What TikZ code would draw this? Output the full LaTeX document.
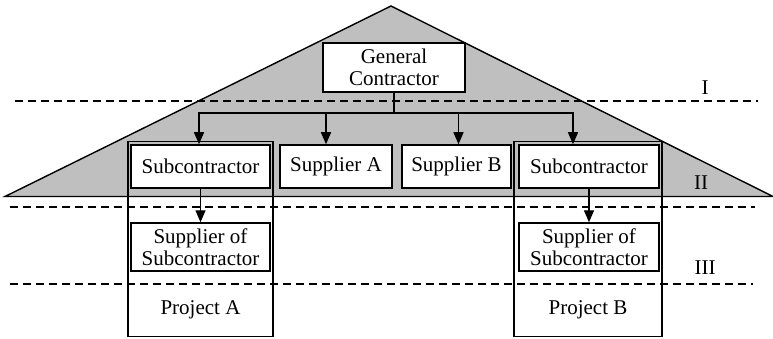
\documentclass[tikz,border=0pt]{standalone}
\usepackage{fontspec}
\setmainfont{Liberation Serif}
\usetikzlibrary{arrows.meta}

\begin{document}
\begin{tikzpicture}[x=1pt, y=-1pt, >={Triangle[length=12pt,width=10pt]},
    box/.style={draw, fill=white, line width=1.5pt, inner sep=0pt, align=center, font=\fontsize{21}{22}\selectfont},
    frame/.style={draw, line width=1.5pt, inner sep=0pt},
    level/.style={line width=1.8pt, dash pattern=on 8pt off 5pt}]
    \useasboundingbox (0,0) rectangle (773,339);

    % 三角形
    \fill[black!25] (391,6) -- (773,196.5) -- (5,196.5) -- cycle;
    \draw[line width=1.4pt] (5,196.5) -- (391,6) -- (773,196.5) -- cycle;

    % 层次虚线
    \draw[level] (15,101) -- (758,101);
    \draw[level] (10,207) -- (755,207);
    \draw[level] (10,284) -- (753,284);
    \node[font=\fontsize{21}{22}\selectfont] (lvI) at (705,88) {I};
    \node[font=\fontsize{21}{22}\selectfont] (lvII) at (701,183) {II};
    \node[font=\fontsize{21}{22}\selectfont] (lvIII) at (705,268) {III};

    % 项目框
    \node[frame, minimum width=145pt, minimum height=195pt] (frameA) at (200.3,239.2) {};
    \node[frame, minimum width=148pt, minimum height=195pt] (frameB) at (588,239.2) {};
    \node[font=\fontsize{21}{22}\selectfont] (projA) at (200.5,310) {Project A};
    \node[font=\fontsize{21}{22}\selectfont] (projB) at (588,310) {Project B};

    % 各方
    \node[box, minimum width=142pt, minimum height=49pt] (gc) at (394,67.5) {General\\Contractor};
    \node[box, minimum width=139pt, minimum height=43pt] (subA) at (200.5,166.5) {Subcontractor};
    \node[box, minimum width=112pt, minimum height=43pt] (supA) at (336,166.5) {Supplier A};
    \node[box, minimum width=109pt, minimum height=43pt] (supB) at (456.5,166.5) {Supplier B};
    \node[box, minimum width=140pt, minimum height=43pt] (subB) at (589,166.5) {Subcontractor};
    \node[box, minimum width=139pt, minimum height=48pt] (ssA) at (200.5,247) {Supplier of\\Subcontractor};
    \node[box, minimum width=140pt, minimum height=48pt] (ssB) at (589,247) {Supplier of\\Subcontractor};

    % 合同关系
    \coordinate (hub) at (394,113);
    \draw[line width=1.4pt] (gc.south) -- (hub);
    \draw[->, line width=1.4pt] (hub) -| ([xshift=-1.5pt]subA.north);
    \draw[->, line width=1.4pt] (hub) -| ([xshift=-10pt]supA.north);
    \draw[->, line width=1.4pt] (hub) -| ([xshift=2pt]supB.north);
    \draw[->, line width=1.4pt] (hub) -| ([xshift=-16pt]subB.north);
    \draw[->, line width=1.4pt] (subA.south) -- (ssA.north);
    \draw[->, line width=1.4pt] (subB.south) -- (ssB.north);
\end{tikzpicture}
\end{document}
